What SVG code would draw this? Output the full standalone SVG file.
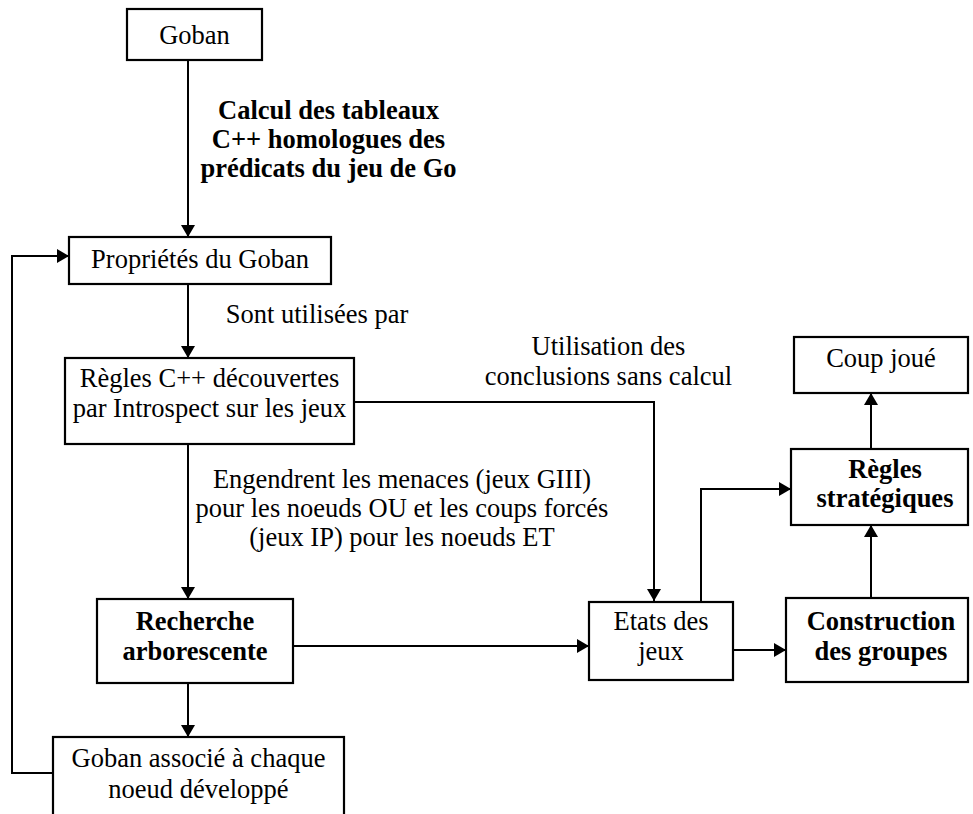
<svg xmlns="http://www.w3.org/2000/svg" width="973" height="814" viewBox="0 0 973 814">
<defs>
<marker id="ah" viewBox="0 0 12 14" refX="12" refY="7" markerWidth="12" markerHeight="14" markerUnits="userSpaceOnUse" orient="auto">
<path d="M0,0 L12,7 L0,14 z" fill="#000"/>
</marker>
<style>
rect{fill:#fff;stroke:#000;stroke-width:2.2}
text{font-family:"Liberation Serif","Times New Roman",serif;font-size:26.5px;fill:#000;text-anchor:middle}
.b{font-weight:bold}
#connectors path{fill:none;stroke:#000;stroke-width:2;marker-end:url(#ah)}
#connectors path.n{marker-end:none}
</style>
</defs>
<rect x="0" y="0" width="973" height="814" style="fill:#fff;stroke:none"/>
<g id="connectors">
<path d="M188,60 V237"/>
<path d="M188,284 V358"/>
<path d="M354,402 H654 V601"/>
<path d="M188,444 V599"/>
<path d="M293,646 H589"/>
<path d="M188,683 V737"/>
<path d="M53,773 H12 V256 H69"/>
<path d="M701,602 V489 H791"/>
<path d="M733,650 H786"/>
<path d="M871,598 V525"/>
<path d="M871,449 V393"/>
</g>
<g id="goban"><rect x="127" y="9" width="135" height="51"/><text x="194.5" y="44">Goban</text></g>
<g id="label-calcul" class="b"><text class="b" x="328.5" y="119">Calcul des tableaux</text><text class="b" x="328.5" y="148">C++ homologues des</text><text class="b" x="328.5" y="177">prédicats du jeu de Go</text></g>
<g id="proprietes"><rect x="69" y="237" width="262" height="47"/><text x="200" y="268">Propriétés du Goban</text></g>
<g id="label-sont"><text x="317" y="323">Sont utilisées par</text></g>
<g id="regles-cpp"><rect x="65" y="358" width="289" height="86"/><text x="209.5" y="387">Règles C++ découvertes</text><text x="209.5" y="417">par Introspect sur les jeux</text></g>
<g id="label-utilisation"><text x="608.5" y="355">Utilisation des</text><text x="608.5" y="385">conclusions sans calcul</text></g>
<g id="coup-joue"><rect x="794" y="337" width="174" height="56"/><text x="881" y="367">Coup joué</text></g>
<g id="label-engendrent"><text x="402" y="488">Engendrent les menaces (jeux GIII)</text><text x="402" y="517">pour les noeuds OU et les coups forcés</text><text x="402" y="546">(jeux IP) pour les noeuds ET</text></g>
<g id="regles-strat"><rect x="791" y="449" width="177" height="76"/><text class="b" x="885" y="478">Règles</text><text class="b" x="885" y="507">stratégiques</text></g>
<g id="recherche"><rect x="97" y="599" width="196" height="84"/><text class="b" x="195" y="630">Recherche</text><text class="b" x="195" y="660">arborescente</text></g>
<g id="etats"><rect x="589" y="602" width="144" height="78"/><text x="661" y="630">Etats des</text><text x="661" y="660">jeux</text></g>
<g id="construction"><rect x="786" y="598" width="182" height="84"/><text class="b" x="881" y="630">Construction</text><text class="b" x="881" y="660">des groupes</text></g>
<g id="goban-associe"><rect x="53" y="737" width="291" height="90"/><text x="198.5" y="767">Goban associé à chaque</text><text x="198.5" y="798">noeud développé</text></g>
</svg>
